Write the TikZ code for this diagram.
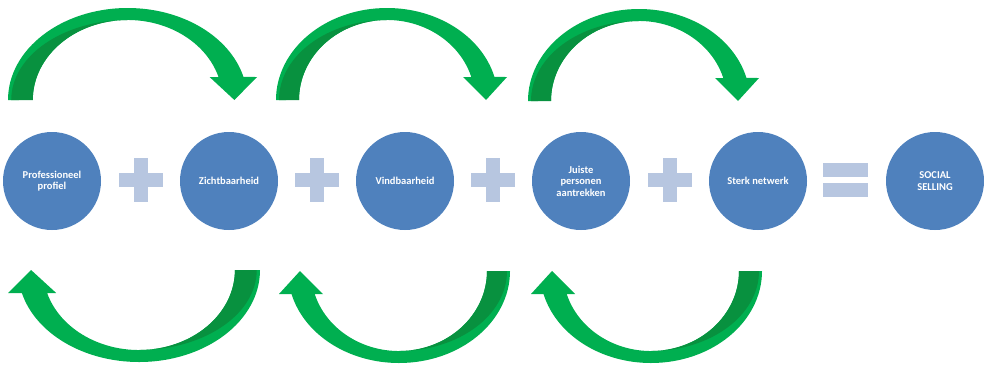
\documentclass[tikz,border=0pt]{standalone}
\usepackage{fontspec}
\setmainfont{Carlito}
\definecolor{circblue}{HTML}{4F81BD}
\definecolor{plusblue}{HTML}{B7C6E0}
\definecolor{glight}{HTML}{00AF50}
\definecolor{gdark}{HTML}{08913F}
\begin{document}
\begin{tikzpicture}[x=1pt,y=1pt,
  circ/.style={circle,fill=circblue,minimum size=98pt,inner sep=0pt,text=white,
    font=\bfseries\fontsize{10.5}{11.5}\selectfont,align=center},
  opbar/.style={fill=plusblue},
  plussign/.pic={\fill[opbar] (-22,-7) rectangle (22,7);
                 \fill[opbar] (-7,-22) rectangle (7,22);},
  equalsign/.pic={\fill[opbar] (-22.5,3) rectangle (22.5,17);
                  \fill[opbar] (-22.5,-3) rectangle (22.5,-17);},
  curvedarrow/.pic={
    \fill[glight] (0,0) arc[start angle=180,end angle=14.5,x radius=111,y radius=92]
      -- (231,23) -- (210,0) -- (187,23) -- (195.3,23)
      arc[start angle=16.7,end angle=180,x radius=88,y radius=80] -- cycle;
    \fill[gdark] (23,0) arc[start angle=180,end angle=90,x radius=88,y radius=80]
      arc[start angle=90,end angle=180,x radius=108,y radius=80] -- cycle;}
]
\useasboundingbox (0,0) rectangle (984,-365);

% circles
\node[circ] (c1) at (52,-181) {Professioneel\\profiel};
\node[circ] (c2) at (229,-181) {Zichtbaarheid};
\node[circ] (c3) at (405,-181) {Vindbaarheid};
\node[circ] (c4) at (581,-181) {Juiste\\personen\\aantrekken};
\node[circ] (c5) at (758,-181) {Sterk netwerk};
\node[circ] (c6) at (935,-181) {SOCIAL\\SELLING};

% operators
\path (c1) -- (c2) coordinate[pos=0.5] (p1);
\path (c2) -- (c3) coordinate[pos=0.5] (p2);
\path (c3) -- (c4) coordinate[pos=0.5] (p3);
\path (c4) -- (c5) coordinate[pos=0.5] (p4);
\path (c5) -- (c6) coordinate[pos=0.5] (eq);
\pic at ([yshift=1pt]p1) {plussign};
\pic at ([yshift=1pt]p2) {plussign};
\pic at ([yshift=1pt]p3) {plussign};
\pic at ([yshift=1pt]p4) {plussign};
\pic at ([xshift=-1pt,yshift=1pt]eq) {equalsign};

% top arrows
\pic[xscale=1.078] at (8,-100) {curvedarrow};
\pic at (276,-100) {curvedarrow};
\pic at (528,-101) {curvedarrow};

% bottom arrows
\pic[rotate=180,xscale=1.09] at (260,-270) {curvedarrow};
\pic[rotate=180] at (510,-271) {curvedarrow};
\pic[rotate=180] at (762,-271) {curvedarrow};
\end{tikzpicture}
\end{document}
